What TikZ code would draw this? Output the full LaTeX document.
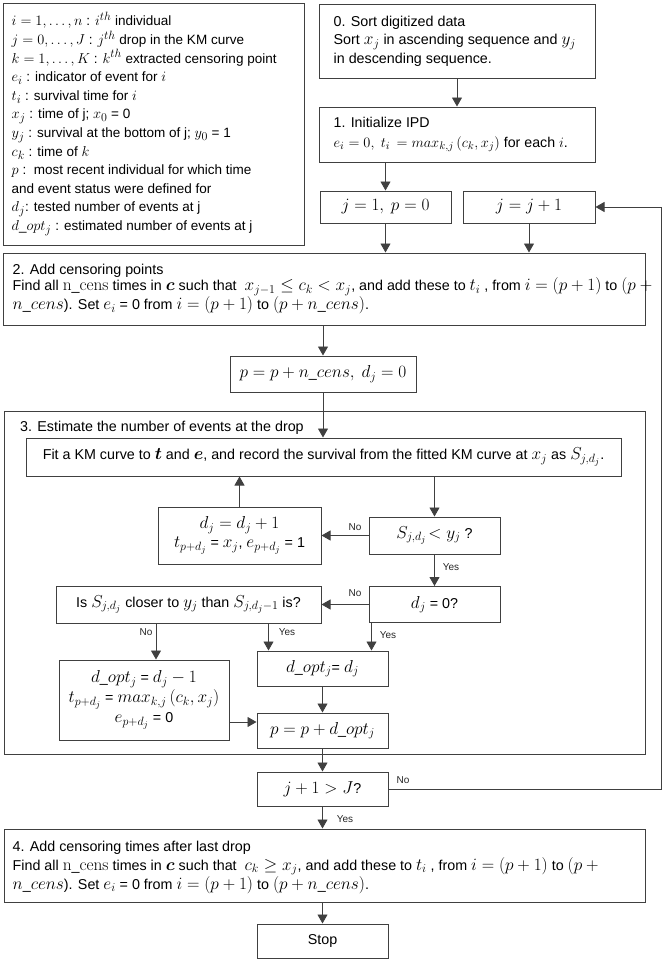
\documentclass[tikz,border=0pt]{standalone}
\usepackage[no-math]{fontspec}
\setmainfont{Liberation Sans}
\usepackage{amsmath}
\usepackage{bm}
\usetikzlibrary{arrows.meta}
\definecolor{lc}{HTML}{404040}
\DeclareMathSizes{14.3}{16}{11.8}{9}
\DeclareMathSizes{14.2}{15}{11}{8.5}
\DeclareMathSizes{13.5}{15.5}{11.5}{8.5}
\newcommand{\mfont}{\fontsize{14.3}{18.5}\selectfont}
\begin{document}
\begin{tikzpicture}[x=1pt,y=-1pt,
 box/.style={draw=lc, line width=1pt, inner sep=0pt, font=\mfont, align=center},
 txt/.style={inner sep=0pt, align=left, anchor=west, font=\mfont},
 conn/.style={draw=lc, line width=0.9pt, -{Triangle[length=9pt,width=10pt]}},
 lab/.style={inner sep=0pt, font=\fontsize{10}{12}\selectfont, text=black!85}]
\useasboundingbox (0,0) rectangle (666,962);

% legend
\node[box, minimum width=301, minimum height=242] (leg) at (153.5,124) {};
\node[txt, font=\fontsize{13.5}{18.6}\selectfont] (legt) at ([xshift=9pt]leg.west) {%
$i = 1, \dots, n$ : $i^{th}$ individual\\
$j = 0, \dots, J$ : $j^{th}$ drop in the KM curve\\
$k = 1, \dots, K$ : $k^{th}$ extracted censoring point\\
$e_i$ : indicator of event for $i$\\
$t_i$ : survival time for $i$\\
$x_j$ : time of j; $x_0$ = 0\\
$y_j$ : survival at the bottom of j; $y_0$ = 1\\
$c_k$ : time of $k$\\
$p$ :\ \ most recent individual for which time\\
and event status were defined for\\
$d_j$: tested number of events at j\\
$d\_opt_j$ : estimated number of events at j};

% step 0 and 1
\node[box, minimum width=276, minimum height=74] (b0) at (457,41) {};
\node[txt] (b0t) at ([xshift=15pt]b0.west) {0. Sort digitized data\\
Sort $x_j$ in ascending sequence and $y_j$\\
in descending sequence.};
\node[box, minimum width=276, minimum height=55] (b1) at (457,134.5) {};
\node[txt, font=\fontsize{14.2}{20}\selectfont] (b1t) at ([xshift=15pt]b1.west) {1. Initialize IPD\\
$e_i = 0,\ t_i\,= max_{k,j}\left(c_k, x_j\right)$ for each $i$.};

\node[box, minimum width=131, minimum height=32] (j1) at (385.5,207) {$j = 1,\ p = 0$};
\node[box, minimum width=132, minimum height=32] (jj) at (529,207) {$j = j + 1$};

% step 2
\node[box, minimum width=642, minimum height=72] (b2) at (324,289) {};
\node[txt, font=\fontsize{14.3}{16}\selectfont] (b2t) at ([xshift=10pt]b2.west) {2. Add censoring points\\
Find all $\mathrm{n\_cens}$ times in $\bm{c}$ such that\ \ $x_{j-1} \le c_k < x_j$, and add these to $t_i$ , from $i = (p + 1)$ to $(p +{}$\\
$n\_cens$). Set $e_i$ = 0 from $i = (p + 1)$ to $(p + n\_cens)$.};

\node[box, minimum width=186, minimum height=36] (pb) at (323,374) {$p = p + n\_cens,\ d_j = 0$};

% step 3
\node[box, minimum width=641, minimum height=343] (b3) at (324.5,582.5) {};
\node[txt] (b3t) at (20,428) {3. Estimate the number of events at the drop};
\node[box, minimum width=595, minimum height=38] (fit) at (323.5,457) {Fit a KM curve to $\bm{t}$ and $\bm{e}$, and record the survival from the fitted KM curve at $x_j$ as $S_{j,d_j}$.};
\node[box, minimum width=163, minimum height=57, font=\fontsize{14.3}{19}\selectfont] (dd) at (239.5,535.5) {$d_j = d_j + 1$\\ $t_{p+d_j}$ = $x_j$, $e_{p+d_j}$ = 1};
\node[box, minimum width=131, minimum height=37] (sq) at (434.5,535.5) {$S_{j,d_j}\!<y_j$ ?};
\node[box, minimum width=265, minimum height=37] (is) at (188.5,604.5) {Is $S_{j,d_j}$ closer to $y_j$ than $S_{j,d_j-1}$ is?};
\node[box, minimum width=131, minimum height=36] (dz) at (434.5,604.5) {$d_j$ = 0?};
\node[box, minimum width=170, minimum height=80, font=\fontsize{14.3}{20}\selectfont] (do1) at (144,700) {$d\_opt_j$ = $d_j - 1$\\ $t_{p+d_j}$ = $max_{k,j}\left(c_k, x_j\right)$\\ $e_{p+d_j}$ = 0};
\node[box, minimum width=131, minimum height=35] (do) at (322.5,668.5) {$d\_opt_j$= $d_j$};
\node[box, minimum width=131, minimum height=35] (pd) at (322.5,730.5) {$p = p + d\_opt_j$};

\node[box, minimum width=131, minimum height=34] (jJ) at (322.5,789) {$j + 1 > J$?};

% step 4
\node[box, minimum width=641, minimum height=73] (b4) at (324.5,865.5) {};
\node[txt, font=\fontsize{14.3}{19}\selectfont] (b4t) at ([xshift=9pt,yshift=-1.5pt]b4.west) {4. Add censoring times after last drop\\
Find all $\mathrm{n\_cens}$ times in $\bm{c}$ such that\ \ $c_k \ge x_j$, and add these to $t_i$ , from $i = (p + 1)$ to $(p +{}$\\
$n\_cens$). Set $e_i$ = 0 from $i = (p + 1)$ to $(p + n\_cens)$.};
\node[box, minimum width=131, minimum height=34] (stop) at (322.5,941) {Stop};

\coordinate (fb) at (661,788);

% connectors
\draw[conn] (b0.south) -- (b1.north);
\draw[conn] (j1.north |- b1.south) -- (j1.north);
\draw[conn] (j1.south) -- (j1.south |- b2.north);
\draw[conn] (jj.south) -- (jj.south |- b2.north);
\draw[conn] (pb.north |- b2.south) -- (pb.north);
\draw[conn] (pb.south) -- (pb.south |- fit.north);
\draw[conn] (sq.north |- fit.south) -- (sq.north);
\draw[conn] (dd.north) -- (dd.north |- fit.south);
\draw[conn] (sq.west) -- (sq.west -| dd.east);
\draw[conn] (sq.south) -- (dz.north);
\draw[conn] (dz.west) -- (dz.west -| is.east);
\draw[conn] ([xshift=3pt]dz.south west) -- ([xshift=3pt]dz.south west |- do.north);
\draw[conn] ([xshift=12pt]do.north west |- is.south) -- ([xshift=12pt]do.north west);
\draw[conn] ([xshift=12pt]do1.north |- is.south) -- ([xshift=12pt]do1.north);
\draw[conn] (do.south) -- (pd.north);
\draw[conn] ([yshift=8.5pt]pd.west -| do1.east) -- ([yshift=8.5pt]pd.west);
\draw[conn] (pd.south) -- (jJ.north);
\draw[conn] (jJ.south) -- (jJ.south |- b4.north);
\draw[conn] (stop.north |- b4.south) -- (stop.north);
\draw[conn] (jJ.east) -- (jJ.east -| fb) -- (fb |- jj.east) -- (jj.east);

% labels
\node[lab] (l1) at (355,527) {No};
\node[lab] (l2) at (451,567) {Yes};
\node[lab] (l3) at (355,593) {No};
\node[lab] (l4) at (388,635) {Yes};
\node[lab] (l5) at (287,632) {Yes};
\node[lab] (l6) at (146,632) {No};
\node[lab] (l7) at (403,780) {No};
\node[lab] (l8) at (345,819) {Yes};
\end{tikzpicture}
\end{document}
